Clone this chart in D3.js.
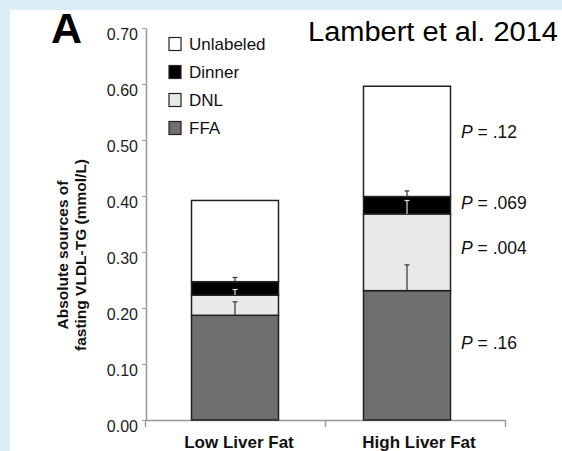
<!DOCTYPE html>
<html>
<head>
<meta charset="utf-8">
<script src="https://cdn.jsdelivr.net/npm/d3@7"></script>
<style>
  html, body { margin: 0; padding: 0; background: #dbeef6; }
  svg { display: block; }
  text { font-family: "Liberation Sans", Arial, sans-serif; }
</style>
</head>
<body>
<svg width="562" height="451"></svg>
<script>
var width = 562,
    height = 451;

// data (mmol/L)
var groups = ["Low Liver Fat", "High Liver Fat"];
var sources = ["FFA", "DNL", "Dinner", "Unlabeled"];
var ffa = [0.187, 0.231];
var dnl = [0.036, 0.137];
var dinner = [0.024, 0.031];
var unlabeled = [0.145, 0.197];
var ffaErr = [0.024, 0.046];
var dnlErr = [0.010, 0.024];
var dinnerErr = [0.0075, 0.010];
var legendOrder = ["Unlabeled", "Dinner", "DNL", "FFA"];
var pLabels = [".12", ".069", ".004", ".16"];
var pAt = [0.515, 0.3875, 0.307, 0.1375];
var yTicks = [0, 0.1, 0.2, 0.3, 0.4, 0.5, 0.6, 0.7];

var color = d3.scaleOrdinal()
    .domain(sources)
    .range(["#6f6f6f", "#e9e9e9", "#000000", "#ffffff"]);

var svg = d3.select("svg");

// white panel
svg.append("rect")
    .attr("x", 10).attr("y", 10)
    .attr("width", width - 10).attr("height", height - 10)
    .attr("fill", "#fff");

var y = d3.scaleLinear().domain([0, 0.7]).range([420, 28]);
var xAxisScale = d3.scaleLinear().domain([0, groups.length]).range([145, 505]);
var xBand = d3.scaleBand().domain(groups).range([145, 505]);
var xBar = d3.scalePoint().domain(groups).range([235, 407]);
var barW = 87;

var table = groups.map(function(g, i) {
  return {group: g, FFA: ffa[i], DNL: dnl[i], Dinner: dinner[i], Unlabeled: unlabeled[i]};
});
var errs = {FFA: ffaErr, DNL: dnlErr, Dinner: dinnerErr};

var series = d3.stack().keys(sources)(table);

// axes
var yAxis = svg.append("g")
    .attr("transform", "translate(146,0)")
    .call(d3.axisLeft(y).tickValues(yTicks).tickFormat(d3.format(".2f")).tickSize(4).tickSizeOuter(0));
yAxis.select(".domain").attr("stroke", "#999").attr("stroke-width", 1.5);
yAxis.selectAll(".tick line").attr("stroke", "#999");
yAxis.selectAll(".tick text")
    .attr("font-size", 16).attr("fill", "#222")
    .attr("x", -8).attr("dy", "0.7em")
    .attr("font-family", "'Liberation Sans', Arial, sans-serif");

var xAxis = svg.append("g")
    .attr("transform", "translate(0,420)")
    .call(d3.axisBottom(xAxisScale).ticks(groups.length).tickFormat("").tickSize(7).tickSizeOuter(0));
xAxis.select(".domain").attr("stroke", "#999").attr("stroke-width", 1.5);
xAxis.selectAll(".tick line").attr("stroke", "#999").attr("stroke-width", 1.5);

svg.append("g").selectAll("text")
    .data(groups)
    .enter().append("text")
      .attr("x", function(d) { return xBand(d) + xBand.bandwidth() / 2 + 4; })
      .attr("y", 448)
      .attr("text-anchor", "middle")
      .attr("font-size", 17)
      .attr("font-weight", "bold")
      .attr("fill", "#111")
      .text(function(d) { return d; });

// stacked bars
svg.append("g").selectAll("g")
    .data(series)
    .enter().append("g")
      .attr("fill", function(d) { return color(d.key); })
    .selectAll("rect")
    .data(function(d) { return d; })
    .enter().append("rect")
      .attr("x", function(d) { return xBar(d.data.group) - barW / 2; })
      .attr("y", function(d) { return y(d[1]); })
      .attr("width", barW)
      .attr("height", function(d) { return y(d[0]) - y(d[1]); })
      .attr("stroke", "#222")
      .attr("stroke-width", 1.5);

// error bars, drawn up from the top of each segment
var errData = [];
series.forEach(function(s) {
  if (!errs[s.key]) return;
  s.forEach(function(d, i) {
    errData.push({group: d.data.group, top: d[1], err: errs[s.key][i], key: s.key});
  });
});

var eb = svg.append("g").selectAll("g")
    .data(errData)
    .enter().append("g")
      .attr("stroke", function(d) { return d.key === "DNL" ? "#ddd" : "#333"; })
      .attr("stroke-width", 1.2);
eb.append("line")
    .attr("x1", function(d) { return xBar(d.group); })
    .attr("x2", function(d) { return xBar(d.group); })
    .attr("y1", function(d) { return y(d.top); })
    .attr("y2", function(d) { return y(d.top + d.err); });
eb.append("line")
    .attr("x1", function(d) { return xBar(d.group) - 2.5; })
    .attr("x2", function(d) { return xBar(d.group) + 2.5; })
    .attr("y1", function(d) { return y(d.top + d.err); })
    .attr("y2", function(d) { return y(d.top + d.err); });

// P values
var pText = svg.append("g").selectAll("text")
    .data(pLabels)
    .enter().append("text")
      .attr("x", 461)
      .attr("y", function(d, i) { return y(pAt[i]); })
      .attr("dy", "0.35em")
      .attr("font-size", 17.5)
      .attr("fill", "#111");
pText.append("tspan").attr("font-style", "italic").text("P");
pText.append("tspan").text(function(d) { return " = " + d; });

// legend
var legend = svg.append("g").selectAll("g")
    .data(legendOrder)
    .enter().append("g")
      .attr("transform", function(d, i) { return "translate(169," + (44 + i * 28) + ")"; });
legend.append("rect")
    .attr("x", 0).attr("y", -6.5)
    .attr("width", 12).attr("height", 13)
    .attr("fill", function(d) { return color(d); })
    .attr("stroke", "#222")
    .attr("stroke-width", 1.2);
legend.append("text")
    .attr("x", 20)
    .attr("dy", "0.36em")
    .attr("font-size", 17)
    .attr("fill", "#111")
    .text(function(d) { return d; });

// y label
svg.append("text")
    .attr("transform", "translate(68,255) rotate(-90)")
    .attr("text-anchor", "middle")
    .attr("font-size", 15.5)
    .attr("font-weight", "bold")
    .attr("fill", "#111")
    .selectAll("tspan")
    .data(["Absolute sources of", "fasting VLDL-TG (mmol/L)"])
    .enter().append("tspan")
      .attr("x", 0)
      .attr("dy", function(d, i) { return i ? 17.5 : 0; })
      .text(function(d) { return d; });

// panel letter
svg.append("text")
    .attr("x", 51).attr("y", 43)
    .attr("font-size", 43)
    .attr("font-weight", "bold")
    .attr("fill", "#000")
    .text("A");

// citation
svg.append("text")
    .attr("x", 308).attr("y", 41)
    .attr("font-family", "Lato, 'Open Sans', sans-serif")
    .attr("font-size", 27)
    .attr("textLength", 250)
    .attr("lengthAdjust", "spacingAndGlyphs")
    .attr("fill", "#000")
    .text("Lambert et al. 2014");
</script>
</body>
</html>
